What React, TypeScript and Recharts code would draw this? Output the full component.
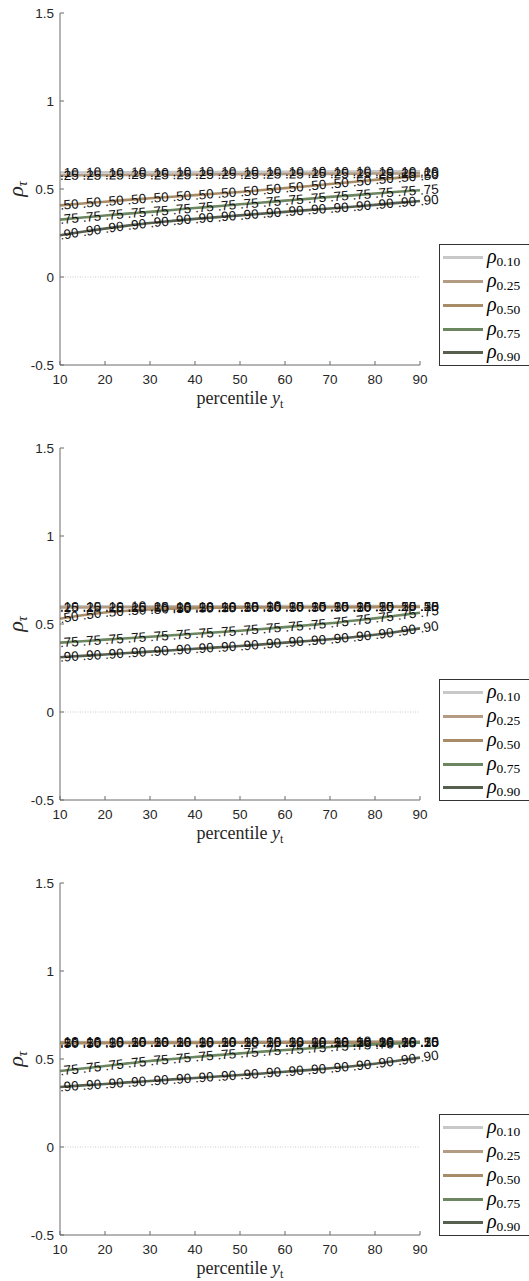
import React from 'react';
import { LineChart, Line, XAxis, YAxis, ReferenceLine, Legend } from 'recharts';

const percentiles = [10, 15, 20, 25, 30, 35, 40, 45, 50, 55, 60, 65, 70, 75, 80, 85, 90];
const xTicks = [10, 20, 30, 40, 50, 60, 70, 80, 90];
const yTicks = [-0.5, 0, 0.5, 1, 1.5];
const seriesKeys = ['r10', 'r25', 'r50', 'r75', 'r90'];
const seriesNames = ['ρ0.10', 'ρ0.25', 'ρ0.50', 'ρ0.75', 'ρ0.90'];
const seriesSubs = ['0.10', '0.25', '0.50', '0.75', '0.90'];
const lineLabels = ['.10', '.25', '.50', '.75', '.90'];
const seriesColors = ['#c8c8c8', '#b49c84', '#a88c68', '#6c8660', '#575f4f'];

// Panel 1
const p1_r10 = [0.594, 0.594, 0.595, 0.595, 0.596, 0.596, 0.597, 0.597, 0.597, 0.598, 0.598, 0.598, 0.599, 0.599, 0.600, 0.600, 0.600];
const p1_r25 = [0.577, 0.578, 0.579, 0.580, 0.580, 0.581, 0.582, 0.583, 0.584, 0.584, 0.585, 0.586, 0.586, 0.587, 0.588, 0.588, 0.589];
const p1_r50 = [0.407, 0.418, 0.428, 0.438, 0.447, 0.456, 0.465, 0.474, 0.483, 0.494, 0.505, 0.516, 0.528, 0.540, 0.552, 0.563, 0.574];
const p1_r75 = [0.326, 0.338, 0.349, 0.360, 0.370, 0.381, 0.392, 0.402, 0.413, 0.423, 0.434, 0.444, 0.455, 0.464, 0.474, 0.484, 0.493];
const p1_r90 = [0.237, 0.257, 0.275, 0.292, 0.307, 0.319, 0.330, 0.340, 0.350, 0.360, 0.370, 0.380, 0.389, 0.399, 0.410, 0.421, 0.432];

// Panel 2
const p2_r10 = [0.600, 0.600, 0.600, 0.600, 0.601, 0.601, 0.601, 0.601, 0.601, 0.601, 0.602, 0.602, 0.602, 0.602, 0.602, 0.602, 0.602];
const p2_r25 = [0.594, 0.594, 0.595, 0.595, 0.595, 0.596, 0.596, 0.596, 0.596, 0.597, 0.597, 0.597, 0.597, 0.597, 0.598, 0.598, 0.598];
const p2_r50 = [0.530, 0.550, 0.565, 0.575, 0.582, 0.587, 0.590, 0.592, 0.593, 0.594, 0.594, 0.595, 0.595, 0.596, 0.596, 0.597, 0.597];
const p2_r75 = [0.394, 0.402, 0.411, 0.419, 0.428, 0.436, 0.445, 0.453, 0.462, 0.472, 0.482, 0.493, 0.504, 0.518, 0.532, 0.548, 0.564];
const p2_r90 = [0.311, 0.319, 0.327, 0.335, 0.343, 0.351, 0.359, 0.367, 0.375, 0.384, 0.394, 0.403, 0.413, 0.425, 0.439, 0.456, 0.475];

// Panel 3
const p3_r10 = [0.597, 0.597, 0.597, 0.598, 0.598, 0.598, 0.598, 0.598, 0.598, 0.599, 0.599, 0.599, 0.599, 0.599, 0.600, 0.600, 0.600];
const p3_r25 = [0.594, 0.594, 0.594, 0.594, 0.595, 0.595, 0.595, 0.595, 0.595, 0.595, 0.596, 0.596, 0.596, 0.596, 0.596, 0.596, 0.596];
const p3_r50 = [0.590, 0.590, 0.590, 0.591, 0.591, 0.591, 0.591, 0.592, 0.592, 0.592, 0.592, 0.592, 0.593, 0.593, 0.593, 0.593, 0.593];
const p3_r75 = [0.432, 0.446, 0.460, 0.475, 0.489, 0.500, 0.511, 0.522, 0.532, 0.542, 0.551, 0.560, 0.568, 0.576, 0.583, 0.588, 0.593];
const p3_r90 = [0.341, 0.350, 0.358, 0.367, 0.375, 0.384, 0.392, 0.401, 0.409, 0.418, 0.428, 0.437, 0.447, 0.459, 0.473, 0.490, 0.508];

const panels = [
  [p1_r10, p1_r25, p1_r50, p1_r75, p1_r90],
  [p2_r10, p2_r25, p2_r50, p2_r75, p2_r90],
  [p3_r10, p3_r25, p3_r50, p3_r75, p3_r90],
];
const panelTops = [0, 435, 870];

const buildData = (series: number[][]) =>
  percentiles.map((p, i) => {
    const row: any = { p };
    seriesKeys.forEach((k, j) => {
      row[k] = series[j][i];
    });
    return row;
  });

const SANS = 'Liberation Sans, Arial, Helvetica, sans-serif';
const SERIF = 'Liberation Serif, Times New Roman, serif';

const makeDot = (text: string) => (props: any) => {
  const { cx, cy, index, points } = props;
  if (cx == null || cy == null || isNaN(cx) || isNaN(cy)) return <g key={`e${index}`} />;
  let ang = 0;
  if (points && points.length > 1) {
    const i0 = Math.min(index, points.length - 2);
    const a = points[i0];
    const b = points[i0 + 1];
    ang = (Math.atan2(b.y - a.y, b.x - a.x) * 180) / Math.PI;
  }
  return (
    <text
      key={`t${index}`}
      x={cx}
      y={cy}
      transform={`rotate(${ang} ${cx} ${cy})`}
      dominantBaseline="central"
      fontSize={13.5}
      fontFamily={SANS}
      fill="#111"
    >
      {text}
    </text>
  );
};

const fmt = (v: number) => String(v);

const LegendBox = () => (
  <div
    style={{
      border: '1px solid #333',
      background: '#fff',
      width: 100,
      height: 122,
      boxSizing: 'border-box',
      paddingTop: 1,
    }}
  >
    {seriesNames.map((n, i) => (
      <div key={n} style={{ height: 23.75, display: 'flex', alignItems: 'center' }}>
        <div style={{ width: 40, height: 3, background: seriesColors[i], marginLeft: 3 }} />
        <div style={{ marginLeft: 4, whiteSpace: 'nowrap', lineHeight: '20px', color: '#000' }}>
          <span style={{ fontFamily: SERIF, fontStyle: 'italic', fontSize: 20 }}>ρ</span>
          <span style={{ fontFamily: SERIF, fontSize: 13.5, position: 'relative', top: 3 }}>{seriesSubs[i]}</span>
        </div>
      </div>
    ))}
  </div>
);

const XLabel = (props: any) => {
  const vb = props.viewBox || {};
  const cx = vb.x + vb.width / 2;
  const y = vb.y + 39;
  return (
    <text x={cx} y={y} textAnchor="middle" fontFamily={SERIF} fontSize={18} fill="#262626">
      <tspan>percentile </tspan>
      <tspan fontStyle="italic">y</tspan>
      <tspan fontSize={12} dy={4}>t</tspan>
    </text>
  );
};

const YLabel = (props: any) => {
  const vb = props.viewBox || {};
  const cy = vb.y + vb.height / 2;
  const x = 23;
  return (
    <text x={x} y={cy} textAnchor="middle" transform={`rotate(-90 ${x} ${cy})`} fontFamily={SERIF} fontSize={22} fill="#262626">
      <tspan fontStyle="italic">ρ</tspan>
      <tspan fontStyle="italic" fontSize={14} dy={4}>τ</tspan>
    </text>
  );
};

const Panel = ({ series }: { series: number[][] }) => {
  const data = buildData(series);
  return (
    <LineChart width={529} height={435} data={data} margin={{ top: 13, right: 109, left: 0, bottom: 0 }}>
      <XAxis
        dataKey="p"
        type="number"
        domain={[10, 90]}
        ticks={xTicks}
        height={70}
        tickSize={-4}
        tickMargin={13.5}
        stroke="#6b6b6b"
        tick={{ fill: '#262626', fontSize: 13.5, fontFamily: SANS }}
        label={<XLabel />}
      />
      <YAxis
        type="number"
        domain={[-0.5, 1.5]}
        ticks={yTicks}
        width={60}
        tickSize={-4}
        tickMargin={10}
        stroke="#6b6b6b"
        tickFormatter={fmt}
        tick={{ fill: '#262626', fontSize: 13.5, fontFamily: SANS }}
        label={<YLabel />}
      />
      <ReferenceLine y={0} stroke="#bdbdbd" strokeDasharray="1 1.5" strokeWidth={0.8} />
      {seriesKeys.map((k, i) => (
        <Line
          key={k}
          dataKey={k}
          name={seriesNames[i]}
          type="monotone"
          stroke={seriesColors[i]}
          strokeWidth={2.6}
          dot={makeDot(lineLabels[i])}
          activeDot={false}
          isAnimationActive={false}
        />
      ))}
      <Legend
        layout="vertical"
        align="center"
        verticalAlign="middle"
        wrapperStyle={{ left: 439, top: 244, width: 100, height: 122 }}
        content={() => <LegendBox />}
      />
    </LineChart>
  );
};

export default function App() {
  return (
    <div style={{ position: 'absolute', left: 0, top: 0, width: 529, height: 1281, overflow: 'hidden', background: '#fff' }}>
      {panels.map((s, i) => (
        <div key={i} style={{ position: 'absolute', left: 0, top: panelTops[i], width: 529, height: 435 }}>
          <Panel series={s} />
        </div>
      ))}
    </div>
  );
}
